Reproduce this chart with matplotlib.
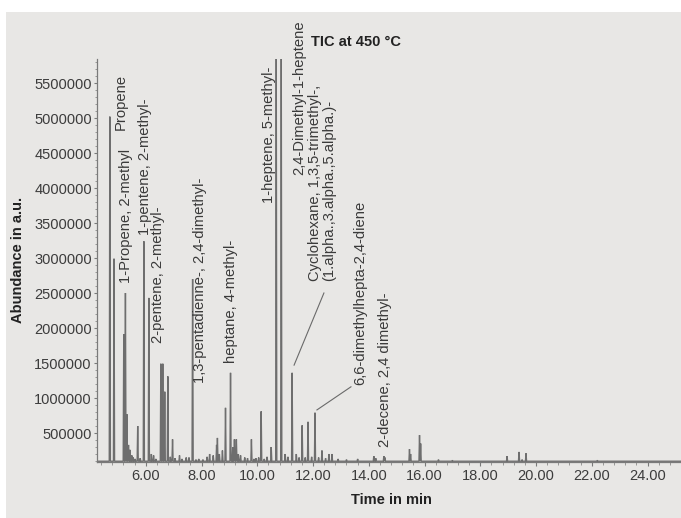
import matplotlib
matplotlib.use('Agg')
import matplotlib.pyplot as plt
from matplotlib.ticker import MultipleLocator, FixedLocator
from matplotlib.patches import Rectangle

plt.rcParams['font.family'] = ['Liberation Sans', 'DejaVu Sans']

# peak retention times (min) and apex abundances (a.u.)
peak_times = [4.71, 4.86, 5.21, 5.27, 5.32, 5.38, 5.43, 5.5, 5.55, 5.62, 5.71, 5.8,
              5.93, 6.11, 6.2, 6.28, 6.36, 6.54, 6.61, 6.68, 6.79, 6.88, 6.96, 7.05,
              7.21, 7.3, 7.45, 7.55, 7.68, 7.8, 7.9, 8.05, 8.2, 8.29, 8.42, 8.54,
              8.57, 8.64, 8.75, 8.86, 9.04, 9.12, 9.18, 9.25, 9.32, 9.4, 9.55, 9.65,
              9.79, 9.88, 9.95, 10.05, 10.14, 10.25, 10.35, 10.5, 10.68, 10.86, 11.0,
              11.1, 11.25, 11.4, 11.5, 11.61, 11.72, 11.82, 11.95, 12.07, 12.2, 12.32,
              12.45, 12.57, 12.68, 12.9, 13.2, 13.6, 14.18, 14.25, 14.54, 14.58,
              15.46, 15.5, 15.82, 15.86, 16.5, 17.0, 18.96, 19.39, 19.5, 19.64, 22.2]
peak_heights = [5020000, 2990000, 1910000, 2500000, 770000, 330000, 260000, 180000,
                150000, 130000, 600000, 140000, 3240000, 2430000, 200000, 180000,
                130000, 1490000, 1490000, 1090000, 1310000, 160000, 410000, 140000,
                180000, 130000, 150000, 150000, 2700000, 120000, 130000, 120000,
                160000, 200000, 180000, 330000, 430000, 200000, 250000, 860000,
                1360000, 300000, 410000, 410000, 200000, 180000, 150000, 140000,
                410000, 130000, 140000, 150000, 810000, 130000, 160000, 300000,
                5900000, 5900000, 200000, 160000, 1360000, 200000, 150000, 610000,
                150000, 660000, 160000, 790000, 150000, 250000, 140000, 200000,
                200000, 130000, 120000, 130000, 170000, 140000, 170000, 150000,
                270000, 200000, 470000, 350000, 120000, 110000, 170000, 230000,
                120000, 210000, 110000]
baseline = 97000
t_start, t_end = 4.25, 25.2

# compound labels: text, retention time of label centre, abundance at label foot
label_texts = ['Propene', '1-Propene, 2-methyl', '1-pentene, 2-methyl-',
               '2-pentene, 2-methyl-', '1,3-pentadienne-, 2,4-dimethyl-',
               'heptane, 4-methyl-', '1-heptene, 5-methyl-', '2,4-Dimethyl-1-heptene',
               'Cyclohexane, 1,3,5-trimethyl-,\n(1.alpha.,3.alpha.,5.alpha.)-',
               '6,6-dimethylhepta-2,4-diene', '2-decene, 2,4 dimethyl-']
label_times = [5.11, 5.29, 5.96, 6.43, 7.96, 9.04, 10.43, 11.5, 12.32, 13.68, 14.57]
label_feet = [4830000, 2640000, 3330000, 1790000, 1210000, 1500000, 3790000,
              4190000, 2670000, 1190000, 300000]

# leader lines (label end -> peak apex)
leaders = [((12.39, 11.32), (2500000, 1470000)),
           ((13.36, 12.14), (1160000, 830000))]

fig = plt.figure(figsize=(6.81, 5.18), dpi=100)
fig.patch.set_facecolor('white')
fig.add_artist(Rectangle((6 / 681, 0), 1, 1 - 12 / 518, transform=fig.transFigure,
                         facecolor='#e8e7e5', edgecolor='none', zorder=0))

ax = fig.add_axes([97 / 681, 56 / 518, 1 - 97 / 681, (462 - 59) / 518])
ax.set_facecolor('none')

# build the trace: each peak as a narrow spike on the baseline
w = 0.02
tx = [t_start]
ty = [baseline]
for t, h in zip(peak_times, peak_heights):
    tx += [t - w, t, t + w]
    ty += [baseline, h, baseline]
tx.append(t_end)
ty.append(baseline)
ax.plot(tx, ty, color='#6e6e6e', lw=1.0, solid_joinstyle='miter')

ax.set_xlim(t_start, t_end)
ax.set_ylim(86000, 5843000)

for s in ['top', 'right']:
    ax.spines[s].set_visible(False)
for s in ['left', 'bottom']:
    ax.spines[s].set_color('#7a7a7a')
    ax.spines[s].set_linewidth(0.9)

xt = [6, 8, 10, 12, 14, 16, 18, 20, 22, 24]
yt = [500000 * i for i in range(1, 12)]
ax.xaxis.set_major_locator(FixedLocator(xt))
ax.xaxis.set_minor_locator(MultipleLocator(0.4))
ax.yaxis.set_major_locator(FixedLocator(yt))
ax.yaxis.set_minor_locator(MultipleLocator(100000))
ax.set_xticklabels(['%.2f' % v for v in xt])
ax.set_yticklabels([str(v) for v in yt])
ax.tick_params(axis='both', which='major', labelsize=10.5, labelcolor='#3c3c3c',
               color='#7a7a7a', length=3, width=0.8, pad=2)
ax.tick_params(axis='y', which='major', pad=1.2, length=2.5)
ax.tick_params(axis='both', which='minor', color='#8a8a8a', length=1.8, width=0.6)

for txt, t, y in zip(label_texts, label_times, label_feet):
    ax.text(t, y, txt, rotation=90, ha='center', va='bottom', fontsize=10.6,
            color='#3a3a3a', linespacing=1.0, multialignment='left')

for xs, ys in leaders:
    ax.plot(xs, ys, color='#6a6a6a', lw=0.8)

fig.text(356 / 681, 1 - 42 / 518, 'TIC at 450 °C', ha='center', va='center',
         fontsize=10.5, fontweight='bold', color='#222222')
fig.text(18 / 681, 1 - 260 / 518, 'Abundance in a.u.', rotation=90, ha='center',
         va='center', fontsize=10.5, fontweight='bold', color='#222222')
fig.text(391 / 681, 1 - 500 / 518, 'Time in min', ha='center', va='center',
         fontsize=10.5, fontweight='bold', color='#222222')

fig.savefig('out.png', dpi=100)
